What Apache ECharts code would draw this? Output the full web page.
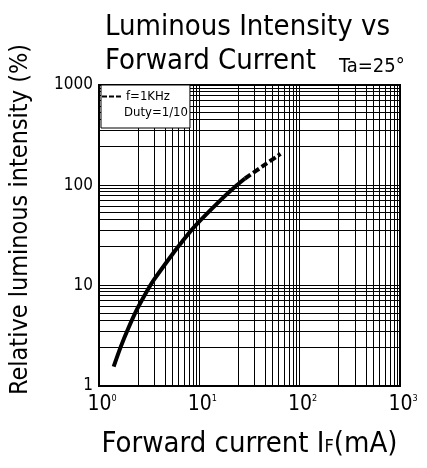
<!DOCTYPE html>
<html>
<head>
<meta charset="utf-8">
<script src="https://cdn.jsdelivr.net/npm/echarts@6/dist/echarts.min.js"></script>
<style>
  html, body { margin: 0; padding: 0; background: #fff; }
  #chart { width: 427px; height: 468px; }
</style>
</head>
<body>
<div id="chart"></div>
<script>
// forward current (mA) vs relative luminous intensity (%)
const currentSolid = [1.40, 1.65, 1.96, 2.33, 2.86, 3.52, 5.8, 6.75, 9.0, 16.1, 23.6, 28.5];
const intensitySolid = [1.56, 2.47, 3.76, 5.51, 8.07, 11.4, 22.7, 27.5, 39, 70.4, 100, 117];
const currentPulse = [28.5, 43.2, 64.5];
const intensityPulse = [117, 156, 206];

const xTicks = [1, 10, 100, 1000];
const yTicks = [1, 10, 100, 1000];
// the sheet's minor grid lines, as multipliers inside each decade
const gridSteps = [2.45, 3.55, 4.57, 5.37, 6.17, 7.08, 7.94, 8.71, 9.33];

const FONT = "'Liberation Sans Narrow', 'DejaVu Sans Condensed', sans-serif";

const gridValues = [];
for (const d of [1, 10, 100]) {
  for (const s of gridSteps) gridValues.push(d * s);
  if (d > 1) gridValues.push(d);
}
const gridLines = [];
for (const v of gridValues) {
  gridLines.push({ xAxis: v });
  gridLines.push({ yAxis: v });
}

const chart = echarts.init(document.getElementById("chart"));

chart.setOption({
  animation: false,
  title: [
    {
      text: "Luminous Intensity vs\nForward Current",
      left: 100,
      top: 5,
      textStyle: { fontFamily: FONT, fontSize: 29, fontWeight: "normal", color: "#000", lineHeight: 34 },
    },
    {
      text: "Ta=25°",
      left: 334,
      top: 52,
      textStyle: { fontFamily: FONT, fontSize: 20, fontWeight: "normal", color: "#000" },
    },
  ],
  legend: {
    data: [{ name: "f=1KHz" }],
    left: 101,
    top: 85,
    orient: "vertical",
    icon: "path://M0,0L5,0L5,2L0,2Z M7,0L12,0L12,2L7,2Z M14,0L19,0L19,2L14,2Z",
    itemWidth: 19,
    itemHeight: 3,
    itemGap: 4,
    padding: [5, 20, 25, 1],
    backgroundColor: "#fff",
    borderColor: "#000",
    borderWidth: 1,
    textStyle: { fontFamily: FONT, fontSize: 13, color: "#000" },
  },
  graphic: [
    {
      type: "text",
      left: 124,
      top: 106,
      z: 100,
      style: { text: "Duty=1/10", fontFamily: FONT, fontSize: 13, fill: "#000" },
    },
  ],
  grid: {
    left: 96,
    right: 27,
    top: 85,
    bottom: 82,
    show: true,
    borderColor: "#000",
    borderWidth: 2,
    backgroundColor: "transparent",
  },
  xAxis: {
    type: "log",
    logBase: 10,
    min: xTicks[0],
    max: xTicks[xTicks.length - 1],
    name: "Forward current I{f|F}(mA)",
    nameLocation: "middle",
    nameGap: 44,
    nameTextStyle: {
      fontFamily: FONT,
      fontSize: 29,
      color: "#000",
      rich: { f: { fontFamily: FONT, fontSize: 18, color: "#000", padding: [5, 0, 0, 0] } },
    },
    axisLine: { show: true, lineStyle: { color: "#000", width: 2 } },
    axisTick: { show: false },
    splitLine: { show: false },
    axisLabel: {
      margin: 8,
      padding: [0, 0, 0, 6],
      formatter: (v) => "{b|10}{s|" + Math.round(Math.log10(v)) + "}",
      rich: {
        b: { fontFamily: FONT, fontSize: 21, color: "#000" },
        s: { fontFamily: FONT, fontSize: 9, color: "#000", padding: [0, 0, 13, 0] },
      },
    },
  },
  yAxis: {
    type: "log",
    logBase: 10,
    min: yTicks[0],
    max: yTicks[yTicks.length - 1],
    name: "Relative luminous intensity (%)",
    nameLocation: "middle",
    nameRotate: 90,
    nameGap: 66,
    nameTextStyle: { fontFamily: FONT, fontSize: 25, color: "#000", padding: [0, 0, 0, 32] },
    axisLine: { show: true, lineStyle: { color: "#000", width: 2 } },
    axisTick: { show: false },
    splitLine: { show: false },
    axisLabel: {
      margin: 6,
      fontFamily: FONT,
      fontSize: 17,
      color: "#000",
      formatter: (v) => String(v),
    },
  },
  series: [
    {
      name: "DC",
      type: "line",
      smooth: 0.3,
      symbol: "none",
      lineStyle: { color: "#000", width: 4 },
      data: currentSolid.map((x, i) => [x, intensitySolid[i]]),
      z: 3,
      markLine: {
        silent: true,
        symbol: "none",
        label: { show: false },
        lineStyle: { color: "#000", width: 1, type: "solid" },
        data: gridLines,
        z: 1,
      },
    },
    {
      name: "f=1KHz",
      type: "line",
      smooth: 0.3,
      symbol: "none",
      itemStyle: { color: "#000" },
      lineStyle: { color: "#000", width: 4, type: [7, 3] },
      data: currentPulse.map((x, i) => [x, intensityPulse[i]]),
      z: 3,
    },
  ],
});
</script>
</body>
</html>
